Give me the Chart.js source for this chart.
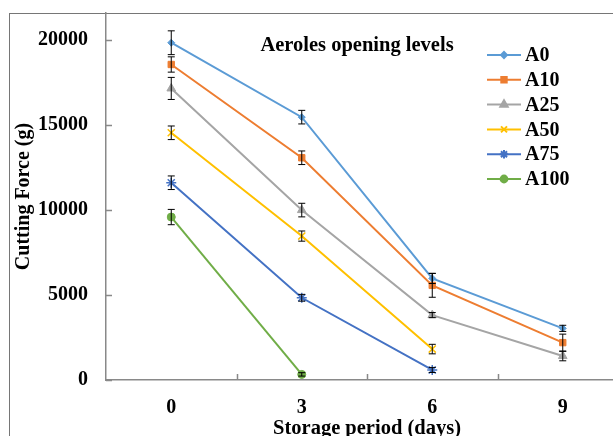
<!DOCTYPE html>
<html>
<head>
<meta charset="utf-8">
<script src="https://cdn.jsdelivr.net/npm/chart.js@4/dist/chart.umd.min.js"></script>
<style>
html, body { margin: 0; padding: 0; background: #fff; overflow: hidden; width: 613px; height: 436px; }
#frame { position: absolute; left: 9px; top: 13px; width: 700px; height: 500px;
         border-left: 1.5px solid #767676; border-top: 1.5px solid #767676; }
#wrap { position: absolute; left: 0; top: 0; width: 640px; height: 446px; }
</style>
</head>
<body>
<div id="frame"></div>
<div id="wrap"><canvas id="chart"></canvas></div>
<script>
const FONT = "'Liberation Serif', 'Times New Roman', serif";

// storage days
const days = ['0', '3', '6', '9'];
const yTicks = [0, 5000, 10000, 15000, 20000];

// cutting force means (g) and their error (±)
const a0 = [19850, 15470, 5980, 3040];
const a0Err = [700, 400, 300, 180];
const a10 = [18570, 13080, 5570, 2200];
const a10Err = [450, 400, 700, 500];
const a25 = [17160, 10000, 3820, 1410];
const a25Err = [650, 400, 150, 280];
const a50 = [14550, 8470, 1820, null];
const a50Err = [400, 300, 280, null];
const a75 = [11610, 4840, 590, null];
const a75Err = [400, 200, 150, null];
const a100 = [9590, 330, null, null];
const a100Err = [450, 100, null, null];

const names = ['A0', 'A10', 'A25', 'A50', 'A75', 'A100'];
const colors = ['#5B9BD5', '#ED7D31', '#A5A5A5', '#FFC000', '#4472C4', '#70AD47'];
const markers = ['rectRot', 'rect', 'triangle', 'crossRot', 'star', 'circle'];
const markerSizes = [3.5, 4.5, 5, 5, 5, 4];
const values = [a0, a10, a25, a50, a75, a100];
const errors = [a0Err, a10Err, a25Err, a50Err, a75Err, a100Err];

const datasets = names.map((n, i) => ({
    label: n,
    data: values[i],
    errors: errors[i],
    borderColor: colors[i],
    backgroundColor: colors[i],
    borderWidth: 2,
    pointStyle: markers[i],
    pointRadius: markerSizes[i],
    pointBorderWidth: markers[i] === 'crossRot' || markers[i] === 'star' ? 1.5 : 1,
    spanGaps: false,
    tension: 0
}));

// black error bars with caps
const errorBars = {
    id: 'errorBars',
    afterDatasetsDraw(chart) {
        const ctx = chart.ctx;
        const y = chart.scales.y;
        ctx.save();
        ctx.strokeStyle = '#000';
        ctx.lineWidth = 1;
        chart.data.datasets.forEach((ds, di) => {
            const meta = chart.getDatasetMeta(di);
            ds.data.forEach((v, i) => {
                if (v == null) return;
                const e = ds.errors[i];
                const px = meta.data[i].x;
                const top = y.getPixelForValue(v + e);
                const bot = y.getPixelForValue(v - e);
                ctx.beginPath();
                ctx.moveTo(px, top); ctx.lineTo(px, bot);
                ctx.moveTo(px - 3.5, top); ctx.lineTo(px + 3.5, top);
                ctx.moveTo(px - 3.5, bot); ctx.lineTo(px + 3.5, bot);
                ctx.stroke();
            });
        });
        ctx.restore();
    }
};

// tick marks pointing into the plot
const innerTicks = {
    id: 'innerTicks',
    afterDraw(chart) {
        const ctx = chart.ctx;
        const { x, y } = chart.scales;
        const area = chart.chartArea;
        ctx.save();
        ctx.strokeStyle = '#898989';
        ctx.lineWidth = 1.5;
        ctx.beginPath();
        yTicks.forEach(t => {
            const py = Math.round(y.getPixelForValue(t)) + 0.5;
            ctx.moveTo(area.left, py); ctx.lineTo(area.left + 6, py);
        });
        for (let i = 0; i < days.length - 1; i++) {
            const px = Math.round((x.getPixelForValue(i) + x.getPixelForValue(i + 1)) / 2) + 0.5;
            ctx.moveTo(px, area.bottom); ctx.lineTo(px, area.bottom - 6);
        }
        ctx.stroke();
        ctx.restore();
    }
};

// title and legend inside the plot
const overlay = {
    id: 'overlay',
    afterDraw(chart) {
        const ctx = chart.ctx;
        const area = chart.chartArea;
        ctx.save();
        ctx.fillStyle = '#000';
        ctx.font = 'bold 20.5px ' + FONT;
        ctx.textAlign = 'center';
        ctx.textBaseline = 'middle';
        ctx.fillText('Aeroles opening levels', area.left + 251, 46);

        const lx = area.left + 381;
        ctx.textAlign = 'left';
        ctx.font = 'bold 20px ' + FONT;
        chart.data.datasets.forEach((ds, i) => {
            const ly = 55 + i * 24.8;
            ctx.strokeStyle = ds.borderColor;
            ctx.lineWidth = 2;
            ctx.beginPath();
            ctx.moveTo(lx, ly); ctx.lineTo(lx + 34, ly);
            ctx.stroke();
            ctx.fillStyle = ds.backgroundColor;
            Chart.helpers.drawPoint(ctx, {
                pointStyle: ds.pointStyle,
                radius: ds.pointRadius * 0.85,
                rotation: 0,
                borderWidth: ds.pointBorderWidth
            }, lx + 17, ly);
            ctx.fillStyle = '#000';
            ctx.fillText(ds.label, lx + 38, ly + 1);
        });
        ctx.restore();
    }
};

new Chart(document.getElementById('chart'), {
    type: 'line',
    data: { labels: days, datasets: datasets },
    options: {
        responsive: true,
        maintainAspectRatio: false,
        animation: false,
        layout: { padding: { top: 13, right: 12, left: 0, bottom: 0 } },
        plugins: {
            legend: { display: false },
            tooltip: { enabled: false }
        },
        scales: {
            x: {
                offset: true,
                grid: { display: false, drawTicks: false },
                border: { display: true, color: '#898989', width: 1.5 },
                ticks: {
                    color: '#000',
                    padding: 16,
                    font: { family: FONT, size: 20, weight: 'bold' }
                },
                title: {
                    display: true,
                    text: 'Storage period (days)',
                    color: '#000',
                    padding: { top: 0, bottom: 5 },
                    font: { family: FONT, size: 20.5, weight: 'bold' }
                },
                afterFit(s) { s.height = 66; s.paddingLeft = 0; s.paddingRight = 0; }
            },
            y: {
                min: 0,
                max: 21600,
                afterBuildTicks(s) { s.ticks = yTicks.map(v => ({ value: v })); },
                grid: { display: false, drawTicks: false },
                border: { display: true, color: '#898989', width: 1.5 },
                ticks: {
                    color: '#000',
                    padding: 18,
                    callback: v => String(v),
                    font: { family: FONT, size: 20, weight: 'bold' }
                },
                title: {
                    display: true,
                    text: 'Cutting Force (g)',
                    color: '#000',
                    padding: { top: 12, bottom: 0 },
                    font: { family: FONT, size: 20, weight: 'bold' }
                },
                afterFit(s) { s.width = 106; s.paddingTop = 0; s.paddingBottom = 0; }
            }
        }
    },
    plugins: [errorBars, innerTicks, overlay]
});
</script>
</body>
</html>
